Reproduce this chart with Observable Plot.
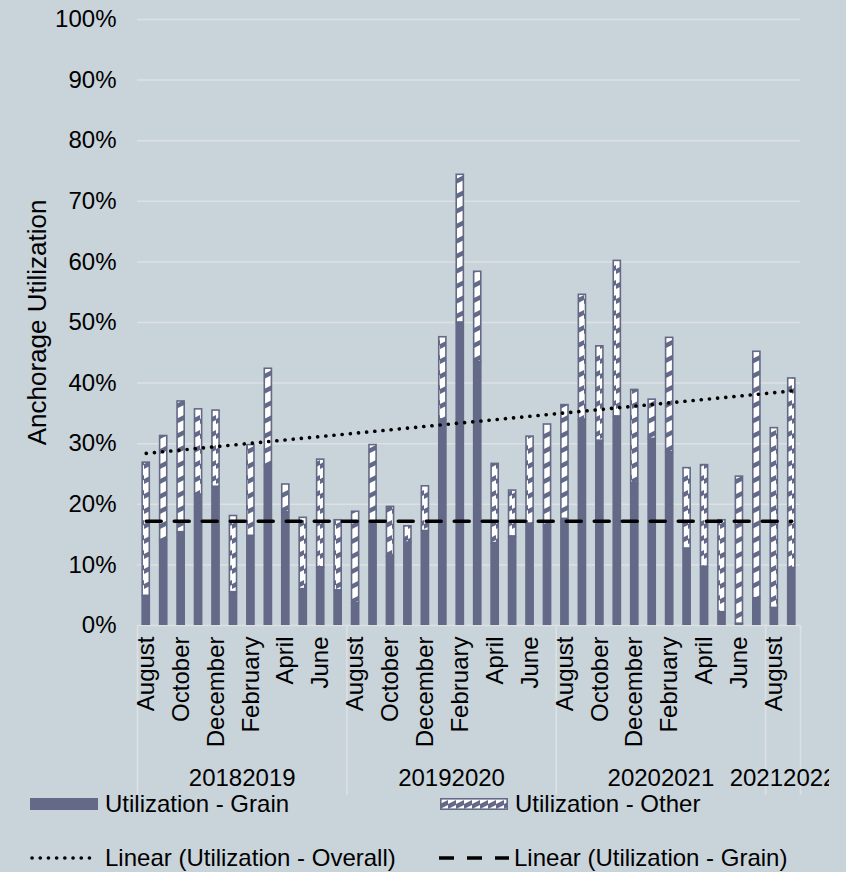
<!DOCTYPE html>
<html><head><meta charset="utf-8">
<script src="https://cdn.jsdelivr.net/npm/d3@7"></script>
<script src="https://cdn.jsdelivr.net/npm/@observablehq/plot@0.6"></script>
<style>
html,body{margin:0;padding:0;background:#c9d3da;}
#wrap{position:relative;width:846px;height:872px;overflow:hidden;font-family:"Liberation Sans",Arial,sans-serif;}
.leg{position:absolute;display:flex;align-items:center;height:28px;font-size:24px;color:#000;white-space:nowrap;}
.leg svg{margin-right:5px;flex:none;}
</style></head><body><div id="wrap"></div>
<script>
// ---- data ----
const fiscalYears = ["20182019", "20192020", "20202021", "20212022"];
const monthsPerYear = [12, 12, 12, 2];
const monthNames = ["August", "September", "October", "November", "December", "January",
                    "February", "March", "April", "May", "June", "July"];
const labeledMonths = ["August", "October", "December", "February", "April", "June"];
const grain = [4.9, 14.1, 15.4, 21.6, 22.9, 5.5, 14.8, 26.3, 18.7, 6.0, 9.6, 5.8,
               3.7, 17.0, 11.4, 13.7, 15.6, 34.0, 50.0, 43.5, 13.6, 14.7, 16.8, 16.3,
               17.6, 34.0, 30.5, 34.5, 23.5, 30.8, 28.6, 12.7, 9.7, 2.2, 0.3, 4.5,
               2.9, 9.5];
const other = [22.1, 17.3, 21.7, 14.2, 12.7, 12.7, 15.1, 16.2, 4.7, 11.9, 17.9, 11.7,
               15.2, 12.9, 8.3, 2.8, 7.5, 13.7, 24.5, 15.0, 13.2, 7.7, 14.5, 17.0,
               18.9, 20.7, 15.7, 25.8, 15.5, 6.6, 19.0, 13.4, 16.9, 15.3, 24.4, 40.8,
               29.8, 31.4];
const trendOverall = [28.4, 38.7];   // Linear (Utilization - Overall), first & last month
const trendGrain = [17.2, 17.2];     // Linear (Utilization - Grain), first & last month
const yTicks = [0, 10, 20, 30, 40, 50, 60, 70, 80, 90, 100];

// ---- build table ----
const rows = [];
const groups = [];
fiscalYears.forEach((fy, f) => {
  const start = rows.length;
  for (let m = 0; m < monthsPerYear[f]; m++) {
    rows.push({key: fy + "-" + m, fy, month: monthNames[m], grain: grain[rows.length], other: other[rows.length]});
  }
  groups.push({fy, first: rows[start].key, mid: rows[start + Math.floor((monthsPerYear[f] - 1) / 2)].key});
});
const keys = rows.map(d => d.key);
const lastKey = keys[keys.length - 1];
const overallLine = [{key: keys[0], v: trendOverall[0]}, {key: lastKey, v: trendOverall[1]}];
const grainLine = [{key: keys[0], v: trendGrain[0]}, {key: lastKey, v: trendGrain[1]}];

// ---- layout ----
const W = 846, H = 796, mL = 137, mR = 46, mT = 19, mB = 171;
const step = (W - mL - mR) / keys.length;
const slate = "#636987", grid = "#dde1e4";
const font = "Liberation Sans, Arial, sans-serif";
const fs = 24;

const chart = Plot.plot({
  width: W, height: H,
  marginLeft: mL, marginRight: mR, marginTop: mT, marginBottom: mB,
  style: {background: "transparent", fontFamily: font, fontSize: fs + "px", color: "#000", overflow: "visible"},
  x: {type: "band", domain: keys, paddingInner: 0.5, paddingOuter: 0.25, round: false, axis: null},
  y: {domain: [0, 100], axis: null},
  marks: [
    Plot.ruleY(yTicks, {y: d => d, stroke: grid, strokeWidth: 1.5}),
    Plot.ruleX(groups, {x: "first", dx: -step / 2, stroke: grid, strokeWidth: 1.5, insetTop: H - mT - mB, insetBottom: -170}),
    Plot.ruleX([lastKey], {x: d => d, dx: step / 2, stroke: grid, strokeWidth: 1.5, insetTop: H - mT - mB, insetBottom: -170}),
    Plot.barY(rows, {x: "key", y1: 0, y2: "grain", fill: slate}),
    Plot.barY(rows, {x: "key", y1: "grain", y2: d => d.grain + d.other, fill: "url(#hatch)", stroke: slate, strokeWidth: 1.6, insetLeft: 0.8, insetRight: 0.8, insetTop: 0.8}),
    Plot.line(grainLine, {x: "key", y: "v", stroke: "#000", strokeWidth: 3.5, strokeDasharray: "15 13"}),
    Plot.line(overallLine, {x: "key", y: "v", stroke: "#000", strokeWidth: 3.6, strokeDasharray: "0.1 8.1", strokeLinecap: "round"}),
    Plot.axisY({ticks: yTicks, tickFormat: d => d + "%", tickSize: 0, tickPadding: 21, fontSize: fs, label: null}),
    Plot.text(["Anchorage Utilization"], {frameAnchor: "left", rotate: -90, textAnchor: "middle", dx: -100, fontSize: 26, text: d => d}),
    Plot.text(rows.filter(d => labeledMonths.includes(d.month)), {x: "key", text: "month", frameAnchor: "bottom", rotate: -90, textAnchor: "end", lineAnchor: "middle", dy: 11, fontSize: fs}),
    Plot.text(groups, {x: "mid", text: "fy", frameAnchor: "bottom", dx: step / 2, dy: 153, lineAnchor: "middle", fontSize: fs})
  ]
});
d3.select(chart).insert("defs", ":first-child").html(
  `<pattern id="hatch" patternUnits="userSpaceOnUse" width="8" height="15">
     <rect width="8" height="15" fill="${slate}"/>
     <polygon points="0,14 0,4 8,0 8,10" fill="#ffffff"/>
   </pattern>`);
const wrap = document.getElementById("wrap");
wrap.appendChild(chart);
chart.style.position = "absolute"; chart.style.left = "0"; chart.style.top = "0";
chart.style.clipPath = "inset(0 17px 0 0)";

// ---- legend ----
const legendItems = [
  {label: "Utilization - Grain", left: 30, top: 790, sw: `<rect x="0" y="8" width="68" height="12" fill="${slate}"/>`},
  {label: "Utilization - Other", left: 440, top: 790, sw: `<rect x="0.8" y="8.8" width="66.4" height="10.4" fill="url(#hatch)" stroke="${slate}" stroke-width="1.6"/>`},
  {label: "Linear (Utilization - Overall)", left: 30, top: 844, sw: `<line x1="2" x2="66" y1="14" y2="14" stroke="#000" stroke-width="3.6" stroke-dasharray="0.1 8.1" stroke-linecap="round"/>`},
  {label: "Linear (Utilization - Grain)", left: 439, top: 844, sw: `<line x1="0" x2="70" y1="14" y2="14" stroke="#000" stroke-width="3.5" stroke-dasharray="15 13"/>`}
];
legendItems.forEach(it => {
  const div = document.createElement("div");
  div.className = "leg";
  div.style.left = it.left + "px";
  div.style.top = it.top + "px";
  div.innerHTML = `<svg width="70" height="28">${it.sw}</svg><span>${it.label}</span>`;
  wrap.appendChild(div);
});
</script>
</body></html>
